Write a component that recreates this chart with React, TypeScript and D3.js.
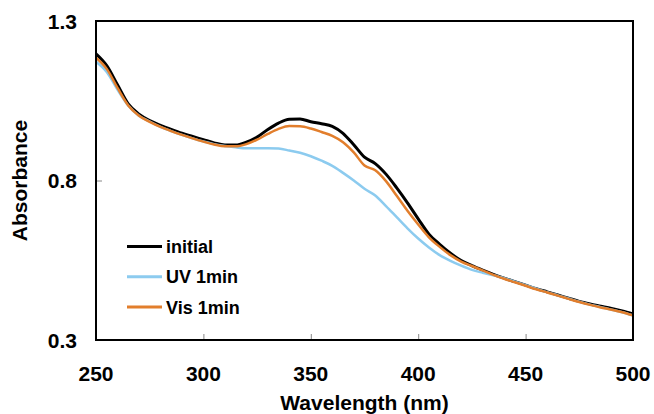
import { useEffect, useRef } from 'react';
import * as d3 from 'd3';

// wavelength grid (nm), 5 nm steps
const wavelengths = d3.range(250, 501, 5);

const initial = [
  1.197, 1.160, 1.100, 1.040, 1.008, 0.988, 0.973, 0.960, 0.948, 0.938,
  0.928, 0.918, 0.911, 0.911, 0.920, 0.936, 0.960, 0.980, 0.992, 0.993,
  0.984, 0.978, 0.970, 0.948, 0.912, 0.873, 0.853, 0.820, 0.777, 0.730,
  0.680, 0.632, 0.600, 0.572, 0.549, 0.533, 0.519, 0.506, 0.494, 0.483,
  0.472, 0.461, 0.451, 0.441, 0.431, 0.421, 0.413, 0.406, 0.399, 0.391,
  0.382,
];

const uv1min = [
  1.172, 1.140, 1.085, 1.035, 1.003, 0.985, 0.968, 0.955, 0.943, 0.932,
  0.922, 0.914, 0.908, 0.904, 0.901, 0.901, 0.901, 0.900, 0.894, 0.887,
  0.876, 0.862, 0.846, 0.824, 0.800, 0.774, 0.753, 0.720, 0.685, 0.650,
  0.618, 0.590, 0.566, 0.548, 0.533, 0.520, 0.511, 0.503, 0.494, 0.483,
  0.472, 0.461, 0.450, 0.440, 0.430, 0.420, 0.411, 0.403, 0.395, 0.387,
  0.377,
];

const vis1min = [
  1.185, 1.150, 1.090, 1.035, 1.003, 0.984, 0.968, 0.955, 0.943, 0.932,
  0.922, 0.913, 0.907, 0.907, 0.914, 0.928, 0.946, 0.962, 0.971, 0.970,
  0.963, 0.952, 0.940, 0.920, 0.888, 0.847, 0.832, 0.798, 0.752, 0.705,
  0.662, 0.622, 0.592, 0.566, 0.546, 0.532, 0.518, 0.504, 0.492, 0.481,
  0.470, 0.459, 0.449, 0.439, 0.429, 0.419, 0.410, 0.402, 0.395, 0.387,
  0.377,
];

const xTicks = [250, 300, 350, 400, 450, 500];
const yTicks = [0.3, 0.8, 1.3];

const series = [
  { name: 'initial', values: initial, color: '#000000', width: 3 },
  { name: 'UV 1min', values: uv1min, color: '#8CCBEF', width: 2.5 },
  { name: 'Vis 1min', values: vis1min, color: '#E27E2C', width: 2.5 },
];

const FONT = '"Liberation Sans", Arial, sans-serif';

const App = () => {
  const ref = useRef<SVGSVGElement>(null);

  useEffect(() => {
    if (!ref.current) return;
    const svg = d3.select(ref.current);
    svg.selectAll('*').remove();

    const W = 654;
    const H = 414;
    const margin = { top: 21, right: 21, bottom: 74, left: 96 };
    const width = W - margin.left - margin.right;
    const height = H - margin.top - margin.bottom;

    const x = d3.scaleLinear().domain([250, 500]).range([0, width]);
    const y = d3.scaleLinear().domain([0.3, 1.3]).range([height, 0]);

    const g = svg.append('g').attr('transform', `translate(${margin.left},${margin.top})`);

    // inward ticks
    g.append('g')
      .attr('transform', `translate(0,${height})`)
      .call(d3.axisBottom(x).tickValues(xTicks).tickSize(-6).tickFormat(() => ''))
      .call(a => a.select('.domain').remove())
      .call(a => a.selectAll('.tick line').attr('stroke', '#888').attr('stroke-width', 1));

    g.append('g')
      .call(d3.axisLeft(y).tickValues(yTicks).tickSize(-6).tickFormat(() => ''))
      .call(a => a.select('.domain').remove())
      .call(a => a.selectAll('.tick line').attr('stroke', '#888').attr('stroke-width', 1));

    // tick labels
    g.selectAll('.xlab')
      .data(xTicks)
      .enter()
      .append('text')
      .attr('x', d => x(d))
      .attr('y', height + 41)
      .attr('text-anchor', 'middle')
      .style('font-family', FONT)
      .style('font-weight', 'bold')
      .style('font-size', '21px')
      .text(d => d);

    g.selectAll('.ylab')
      .data(yTicks)
      .enter()
      .append('text')
      .attr('x', -19)
      .attr('y', d => y(d) + 7.5)
      .attr('text-anchor', 'end')
      .style('font-family', FONT)
      .style('font-weight', 'bold')
      .style('font-size', '21px')
      .text(d => d.toFixed(1));

    // axis titles
    g.append('text')
      .attr('x', width / 2)
      .attr('y', height + 70)
      .attr('text-anchor', 'middle')
      .style('font-family', FONT)
      .style('font-weight', 'bold')
      .style('font-size', '21px')
      .text('Wavelength (nm)');

    g.append('text')
      .attr('transform', 'rotate(-90)')
      .attr('x', -height / 2)
      .attr('y', -69)
      .attr('text-anchor', 'middle')
      .style('font-family', FONT)
      .style('font-weight', 'bold')
      .style('font-size', '21px')
      .text('Absorbance');

    // curves
    const line = d3.line<number>()
      .x((_, i) => x(wavelengths[i]))
      .y(d => y(d))
      .curve(d3.curveMonotoneX);

    series.forEach(s => {
      g.append('path')
        .datum(s.values)
        .attr('fill', 'none')
        .attr('stroke', s.color)
        .attr('stroke-width', s.width)
        .attr('stroke-linejoin', 'round')
        .attr('d', line);
    });

    // frame
    g.append('rect')
      .attr('width', width)
      .attr('height', height)
      .attr('fill', 'none')
      .attr('stroke', '#000')
      .attr('stroke-width', 2);

    // legend
    const legend = g.append('g').attr('transform', 'translate(31, 225.5)');
    series.forEach((s, i) => {
      const row = legend.append('g').attr('transform', `translate(0, ${i * 30.3})`);
      row.append('line')
        .attr('x1', 0)
        .attr('x2', 35)
        .attr('stroke', s.color)
        .attr('stroke-width', 3);
      row.append('text')
        .attr('x', 39)
        .attr('y', 6.5)
        .style('font-family', FONT)
        .style('font-weight', 'bold')
        .style('font-size', '18px')
        .text(s.name);
    });
  }, []);

  return (
    <svg
      ref={ref}
      width={654}
      height={414}
      style={{ position: 'absolute', left: 0, top: 0, background: '#fff' }}
    />
  );
};

export default App;
